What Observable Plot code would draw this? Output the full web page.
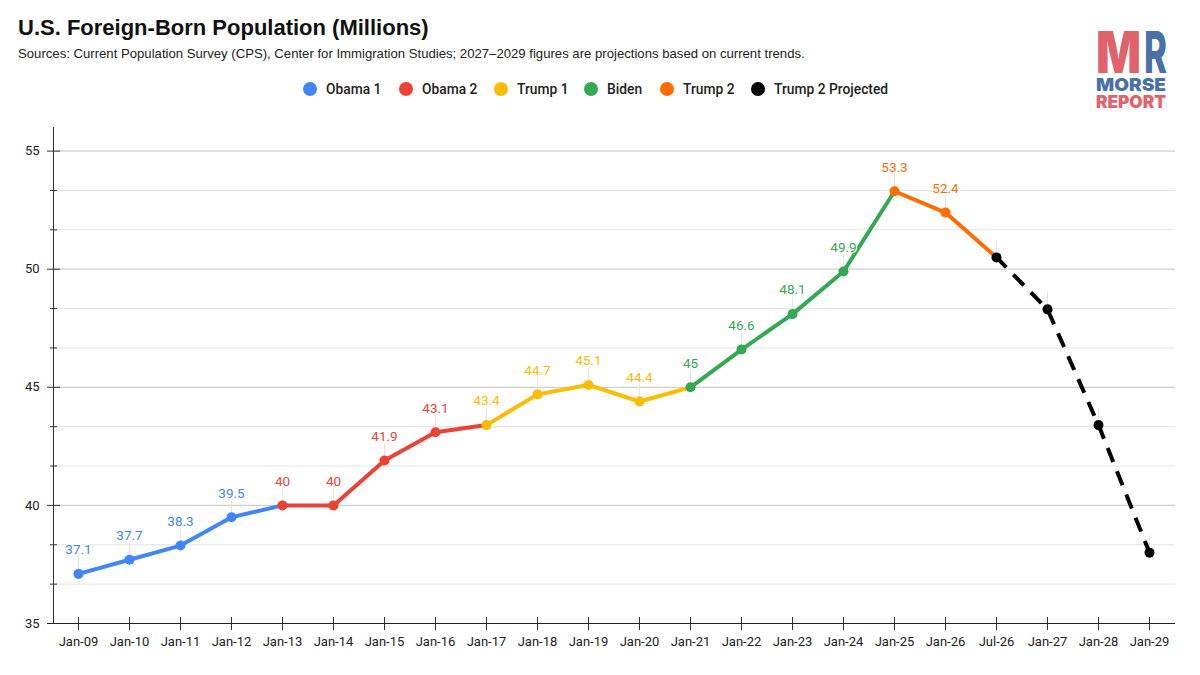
<!DOCTYPE html>
<html>
<head>
<meta charset="utf-8">
<script src="https://cdn.jsdelivr.net/npm/d3@7"></script>
<script src="https://cdn.jsdelivr.net/npm/@observablehq/plot@0.6"></script>
<style>
  html,body{margin:0;padding:0;background:#fff;width:1200px;height:675px;overflow:hidden}
  #head{position:relative;height:120px;width:1200px}
  #title{position:absolute;left:18px;top:15px;font:bold 22px "Liberation Sans",Arial,sans-serif;color:#111;white-space:nowrap}
  #sub{position:absolute;left:18px;top:46px;font:13.15px "Liberation Sans",Arial,sans-serif;color:#222;white-space:nowrap}
  #legend{position:absolute;left:303px;top:80px;width:640px;display:flex;font:500 13.8px Roboto,sans-serif;color:#222;white-space:nowrap}
  #legend .it{display:flex;flex:none;align-items:center;height:18px}
  #legend i{display:inline-block;flex:none;width:14px;height:14px;border-radius:50%;margin-right:9px}
  #logo{position:absolute;left:1090px;top:0}
  svg{display:block}
</style>
</head>
<body>
<div id="head">
  <div id="title">U.S. Foreign-Born Population (Millions)</div>
  <div id="sub">Sources: Current Population Survey (CPS), Center for Immigration Studies; 2027–2029 figures are projections based on current trends.</div>
  <div id="legend"></div>
  <svg id="logo" width="110" height="120" viewBox="0 0 110 120">
    <text x="6" y="73" font-family="Inter,sans-serif" font-weight="900" font-size="58" fill="#E2626B" textLength="45" lengthAdjust="spacingAndGlyphs">M</text>
    <text x="54" y="73" font-family="Inter,sans-serif" font-weight="800" font-size="58" fill="#4A70A8" textLength="23" lengthAdjust="spacingAndGlyphs">R</text>
    <text x="6" y="91" font-family="Inter,sans-serif" font-weight="900" font-size="18" fill="#4A70A8" textLength="70" lengthAdjust="spacingAndGlyphs">MORSE</text>
    <text x="6" y="108" font-family="Inter,sans-serif" font-weight="900" font-size="17" fill="#E2626B" textLength="70" lengthAdjust="spacingAndGlyphs">REPORT</text>
  </svg>
</div>
<div id="chart"></div>
<script>
const categories = ["Jan-09","Jan-10","Jan-11","Jan-12","Jan-13","Jan-14","Jan-15","Jan-16","Jan-17","Jan-18","Jan-19","Jan-20","Jan-21","Jan-22","Jan-23","Jan-24","Jan-25","Jan-26","Jul-26","Jan-27","Jan-28","Jan-29"];
const values = [37.1,37.7,38.3,39.5,40,40,41.9,43.1,43.4,44.7,45.1,44.4,45,46.6,48.1,49.9,53.3,52.4,50.5,48.3,43.4,38];
const terms = ["Obama 1","Obama 1","Obama 1","Obama 1","Obama 2","Obama 2","Obama 2","Obama 2","Trump 1","Trump 1","Trump 1","Trump 1","Biden","Biden","Biden","Biden","Trump 2","Trump 2","Trump 2 Projected","Trump 2 Projected","Trump 2 Projected","Trump 2 Projected"];
const termNames = ["Obama 1","Obama 2","Trump 1","Biden","Trump 2","Trump 2 Projected"];
const termColors = ["#4285F4","#EA4335","#FBBC04","#34A853","#FF6D01","#000000"];
const legendWidths = [96,95,90,76,91,140];
const majorTicks = [35,40,45,50,55];
const minorTicks = [36.667,38.333,41.667,43.333,46.667,48.333,51.667,53.333];
const leaderLength = 0.72;

const legend = document.getElementById("legend");
termNames.forEach((n,i)=>{
  const d = document.createElement("div");
  d.className = "it"; d.style.width = legendWidths[i]+"px";
  d.innerHTML = `<i style="background:${termColors[i]}"></i><span>${n}</span>`;
  legend.appendChild(d);
});

const points = categories.map((c,i)=>({c,v:values[i],t:terms[i]}));
// Each segment takes the colour of the point it starts from.
const segments = [];
points.slice(0,-1).forEach((p,i)=>{
  segments.push({c:p.c,v:p.v,seg:i,t:p.t});
  segments.push({c:points[i+1].c,v:points[i+1].v,seg:i,t:p.t});
});
const solid = segments.filter(d=>d.t!=="Trump 2 Projected");
const dashed = points.filter(d=>d.t==="Trump 2 Projected");

const plot = Plot.plot({
  width:1200, height:555,
  marginTop:7, marginBottom:52, marginLeft:47, marginRight:25,
  style:{fontFamily:"Roboto, sans-serif", background:"#fff"},
  x:{type:"point", domain:categories, range:[78,1149], padding:0, label:null},
  y:{domain:[35,56], label:null},
  color:{domain:termNames, range:termColors},
  marks:[
    Plot.ruleY(minorTicks,{stroke:"#e3e3e3",strokeWidth:1,insetLeft:6}),
    Plot.ruleY(majorTicks.slice(1),{stroke:"#cfcfcf",strokeWidth:1.2,insetLeft:6}),
    Plot.ruleY(minorTicks,{stroke:"#333",strokeWidth:1,insetLeft:3,insetRight:1118}),
    Plot.ruleY(majorTicks.slice(1),{stroke:"#333",strokeWidth:1,insetRight:1115}),
    Plot.ruleX(["Jan-09"],{dx:-25,stroke:"#333",strokeWidth:1}),
    Plot.ruleY([35],{stroke:"#222",strokeWidth:1}),
    Plot.ruleX(categories,{stroke:"#333",strokeWidth:1,insetTop:490}),
    Plot.axisX({tickSize:7,tickPadding:6,fontSize:13,color:"#222",stroke:"#333",tickFormat:d=>d,label:null}),
    Plot.axisY(majorTicks,{tickSize:0,tickPadding:8,fontSize:13,color:"#222",label:null,tickFormat:d=>d}),
    Plot.ruleX(points,{x:"c",y1:"v",y2:d=>d.v+leaderLength,stroke:"#e4e4e4",strokeWidth:1}),
    Plot.line(solid,{x:"c",y:"v",z:"seg",stroke:"t",strokeWidth:4,strokeLinecap:"butt"}),
    Plot.line(dashed,{x:"c",y:"v",stroke:"#000",strokeWidth:4,strokeDasharray:"15 10",strokeDashoffset:1,strokeLinecap:"butt"}),
    Plot.dot(points,{x:"c",y:"v",fill:"t",r:5}),
    Plot.text(points,{x:"c",y:"v",text:d=>String(d.v),fill:d=>d.t==="Trump 2 Projected"?"#222":d.t,dy:-24,fontSize:13.5,stroke:"#fff",strokeWidth:2.5,paintOrder:"stroke"})
  ]
});
document.getElementById("chart").appendChild(plot);
</script>
</body>
</html>
